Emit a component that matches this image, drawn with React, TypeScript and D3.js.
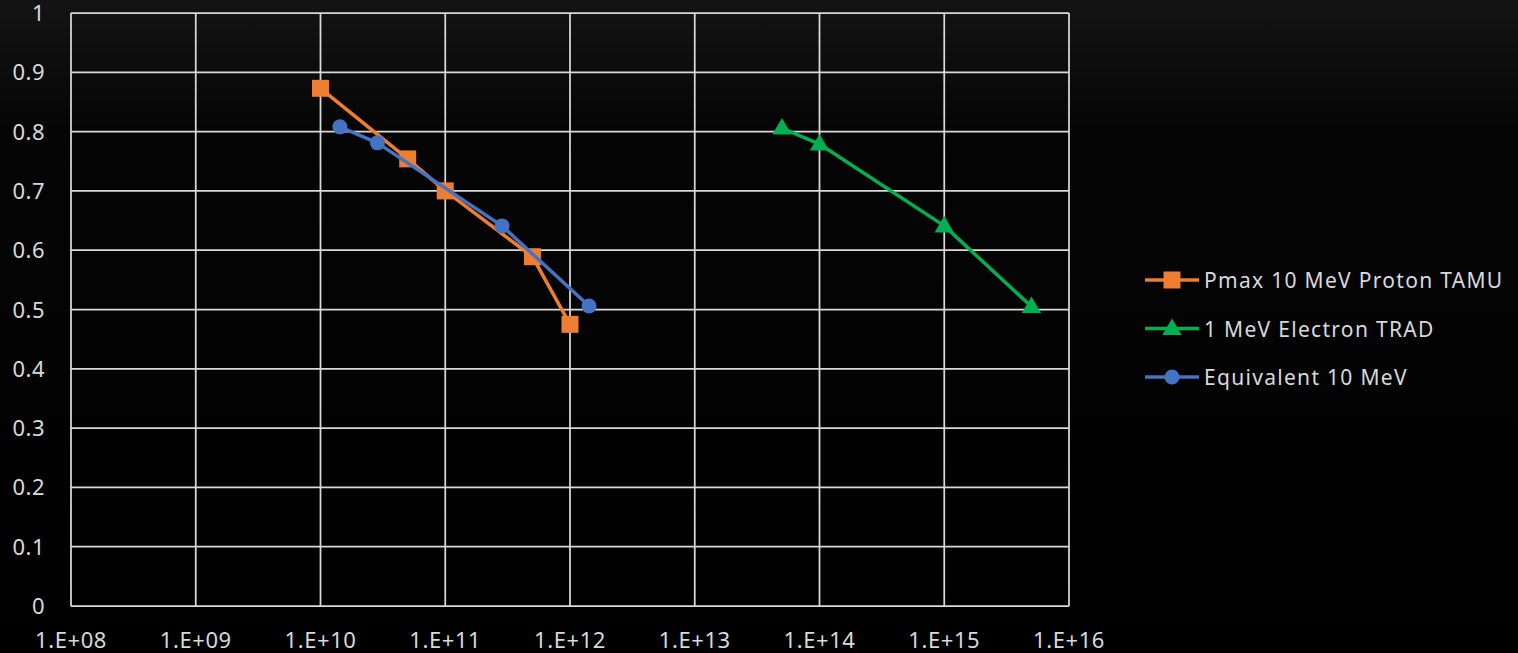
import React from 'react';
import * as d3 from 'd3';

// fluence (x) vs normalised Pmax (y)
const protonX = [1e10, 5e10, 1e11, 5e11, 1e12];
const protonY = [0.873, 0.754, 0.7, 0.589, 0.475];

const electronX = [5e13, 1e14, 1e15, 5e15];
const electronY = [0.806, 0.779, 0.641, 0.505];

const equivX = [1.43e10, 2.86e10, 2.85e11, 1.42e12];
const equivY = [0.808, 0.781, 0.641, 0.506];

const xTicks = [1e8, 1e9, 1e10, 1e11, 1e12, 1e13, 1e14, 1e15, 1e16];
const xTickLabels = ['1.E+08', '1.E+09', '1.E+10', '1.E+11', '1.E+12', '1.E+13', '1.E+14', '1.E+15', '1.E+16'];
const yTicks = [0, 0.1, 0.2, 0.3, 0.4, 0.5, 0.6, 0.7, 0.8, 0.9, 1];
const yTickLabels = ['0', '0.1', '0.2', '0.3', '0.4', '0.5', '0.6', '0.7', '0.8', '0.9', '1'];

const seriesNames = ['Pmax 10 MeV Proton TAMU', '1 MeV Electron TRAD', 'Equivalent 10 MeV'];
const seriesColors = ['#ED7D31', '#00B050', '#4472C4'];

const W = 1518;
const H = 653;
const FONT = '"Noto Sans", sans-serif';
const TEXT = '#d9d9d9';
const GRID = '#d9d9d9';

type Pt = { x: number; y: number };

const zip = (xs: number[], ys: number[]): Pt[] => xs.map((x, i) => ({ x, y: ys[i] }));

const Marker = ({ kind, cx, cy, color }: { kind: string; cx: number; cy: number; color: string }) => {
  if (kind === 'square') {
    return <rect x={cx - 8.5} y={cy - 8.5} width={17} height={17} fill={color} />;
  }
  if (kind === 'triangle') {
    const s = d3.symbol(d3.symbolTriangle, 160)();
    return <path d={s || ''} transform={`translate(${cx},${cy + 1})`} fill={color} />;
  }
  return <circle cx={cx} cy={cy} r={7.5} fill={color} />;
};

export default function App() {
  const x = d3.scaleLog().domain([1e8, 1e16]).range([71, 1069]);
  const y = d3.scaleLinear().domain([0, 1]).range([606, 13]);

  const line = d3.line<Pt>().x(d => x(d.x)).y(d => y(d.y));

  const series = [
    { name: seriesNames[0], color: seriesColors[0], kind: 'square', pts: zip(protonX, protonY) },
    { name: seriesNames[1], color: seriesColors[1], kind: 'triangle', pts: zip(electronX, electronY) },
    { name: seriesNames[2], color: seriesColors[2], kind: 'circle', pts: zip(equivX, equivY) },
  ];

  const legendY = d3.scalePoint<number>().domain([0, 1, 2]).range([280, 377]);

  return (
    <svg width={W} height={H} style={{ position: 'absolute', left: 0, top: 0 }}>
      <defs>
        <linearGradient id="bg" x1="0" y1="0" x2="0" y2="1">
          <stop offset="0" stopColor="#141414" />
          <stop offset="0.2" stopColor="#050505" />
          <stop offset="1" stopColor="#000" />
        </linearGradient>
      </defs>
      <rect width={W} height={H} fill="url(#bg)" />

      <g stroke={GRID} strokeWidth={1.75}>
        {yTicks.map(t => (
          <line key={'y' + t} x1={x(1e8)} x2={x(1e16)} y1={y(t)} y2={y(t)} />
        ))}
        {xTicks.map(t => (
          <line key={'x' + t} x1={x(t)} x2={x(t)} y1={y(0)} y2={y(1)} />
        ))}
      </g>

      <g fill={TEXT} fontFamily={FONT} fontSize={22} textAnchor="end" letterSpacing={0.5}>
        {yTicks.map((t, i) => (
          <text key={t} x={45} y={y(t) + 8}>{yTickLabels[i]}</text>
        ))}
      </g>
      <g fill={TEXT} fontFamily={FONT} fontSize={22} textAnchor="middle" letterSpacing={0.6}>
        {xTicks.map((t, i) => (
          <text key={t} x={x(t)} y={648}>{xTickLabels[i]}</text>
        ))}
      </g>

      {series.map(s => (
        <g key={s.name}>
          <path d={line(s.pts) || ''} fill="none" stroke={s.color} strokeWidth={3.5} strokeLinejoin="round" />
          {s.pts.map((p, i) => (
            <Marker key={i} kind={s.kind} cx={x(p.x)} cy={y(p.y)} color={s.color} />
          ))}
        </g>
      ))}

      <g fontFamily={FONT} fontSize={21} fill={TEXT} letterSpacing={1.3}>
        {series.map((s, i) => {
          const ly = legendY(i) || 0;
          return (
            <g key={s.name}>
              <line x1={1145} x2={1199} y1={ly} y2={ly} stroke={s.color} strokeWidth={3.5} />
              <Marker kind={s.kind} cx={1172} cy={ly} color={s.color} />
              <text x={1204} y={ly + 8}>{s.name}</text>
            </g>
          );
        })}
      </g>
    </svg>
  );
}
